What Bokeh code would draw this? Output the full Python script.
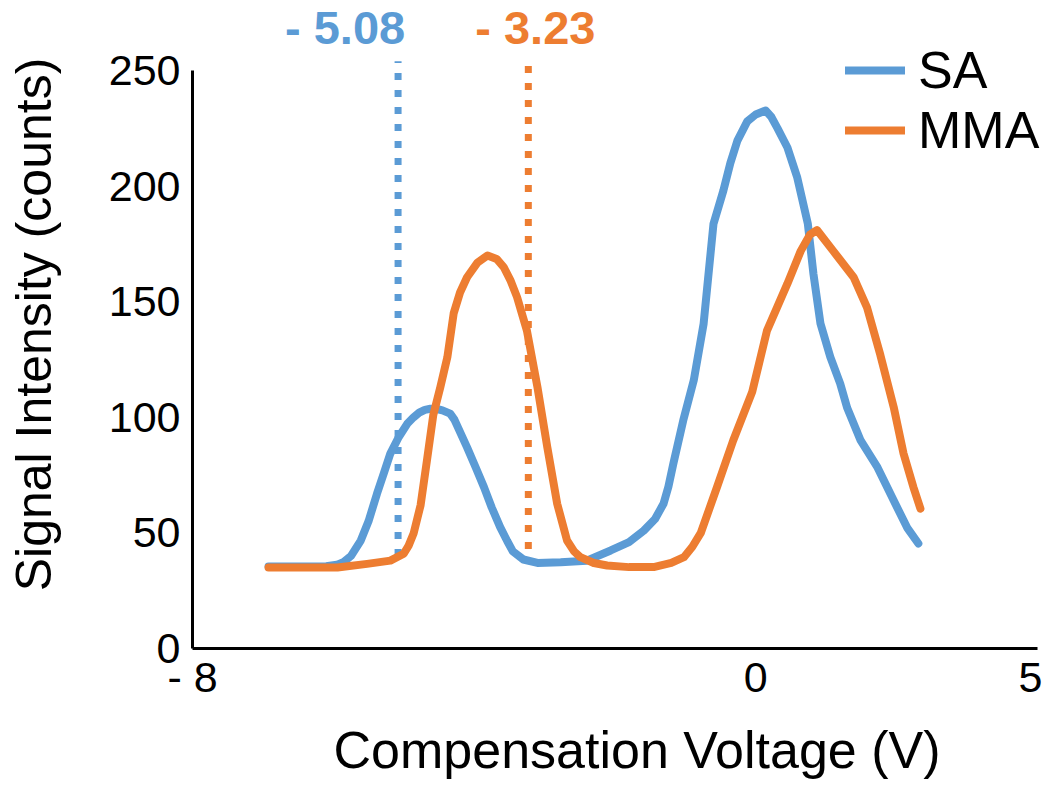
from bokeh.plotting import figure
from bokeh.models import Legend, LegendItem, Label, FixedTicker, Range1d, Title
from bokeh.embed import file_html
from bokeh.resources import INLINE

# ---- data ----
sa_cv = [-6.92, -6.5, -6.1, -5.95, -5.85, -5.75, -5.61, -5.5, -5.38, -5.28, -5.19, -5.07, -4.95,
         -4.86, -4.78, -4.7, -4.62, -4.53, -4.45, -4.34, -4.28, -4.22, -4.10, -3.98, -3.86,
         -3.75, -3.63, -3.53, -3.45, -3.3, -3.1, -2.77, -2.4, -2.06, -1.8, -1.59, -1.43,
         -1.31, -1.24, -1.17, -1.03, -0.88, -0.74, -0.6, -0.46, -0.36, -0.26, -0.12, 0.0,
         0.14, 0.22, 0.31, 0.45, 0.59, 0.74, 0.82, 0.92, 1.06, 1.2, 1.3, 1.49, 1.73, 1.96,
         2.15, 2.31]
sa_int = [35.5, 35.5, 35.6, 36.2, 37.5, 40, 46.7, 55, 66.9, 76, 84.3, 91.5, 97.2,
          100, 102, 103.2, 103.7, 103.6, 103, 101.6, 99, 95, 87, 78.5, 69.8,
          61, 52.5, 46.5, 42, 38.5, 37, 37.3, 38, 42.4, 46, 51, 56,
          62.6, 70, 80, 98.6, 116, 140.5, 183.7, 198, 210, 219.7, 228, 231,
          232.7, 230, 225, 216.7, 203.7, 183.8, 162, 140.5, 126, 114.6, 104, 90, 78.3, 64,
          52.3, 45.4]

mma_cv = [-6.92, -6.3, -5.94, -5.52, -5.19, -5.0, -4.93, -4.86, -4.76, -4.67, -4.58, -4.48,
          -4.38, -4.29, -4.2, -4.1, -3.95, -3.81, -3.68, -3.58, -3.48, -3.39, -3.25, -3.1,
          -2.96, -2.82, -2.68, -2.58, -2.49, -2.3, -2.11, -1.8, -1.45, -1.2, -1.02, -0.9,
          -0.78, -0.55, -0.32, -0.05, 0.16, 0.45, 0.64, 0.77, 0.87, 1.1, 1.39, 1.58, 1.77,
          1.96, 2.1, 2.24, 2.34]
mma_int = [35, 35, 35, 36.6, 38, 41, 44.5, 49.7, 62, 81.3, 101, 113,
           126, 145, 154, 160.6, 167, 170, 168.5, 165, 159, 152, 137.5, 113,
           87, 62.6, 46.7, 42, 39.5, 37, 35.9, 35.2, 35.2, 37, 39.5, 44,
           50, 69.8, 90, 111, 137.5, 157.8, 172, 179, 181, 172, 160.6, 147.6, 127,
           104.4, 84.3, 69.8, 60.5]

marker_cv = [-5.08, -3.23]
marker_labels = ["- 5.08", "- 3.23"]
marker_bottom = [40, 43]
marker_top = [254, 254]
marker_label_y = 262

x_ticks = [-8, 0, 4]
x_tick_labels = {-8: "- 8", 0: "0", 4: "5"}
y_ticks = [0, 50, 100, 150, 200, 250]
x_title = "Compensation Voltage (V)"
y_title = "Signal Intensity (counts)"

BLUE = "#5B9BD5"
ORANGE = "#ED7D31"
FONT = "Liberation Sans"

p = figure(width=1042, height=795, output_backend="svg", toolbar_location=None,
           x_range=Range1d(-8, 4.045), y_range=Range1d(0, 280.3),
           min_border_left=192, min_border_right=2, min_border_top=0, min_border_bottom=147)

p.grid.visible = False
p.outline_line_color = None
p.background_fill_color = "white"

# axes
for ax in (p.xaxis[0], p.yaxis[0]):
    ax.axis_line_color = "black"
    ax.axis_line_width = 3
    ax.major_tick_in = 0
    ax.major_tick_out = 0
    ax.minor_tick_in = 0
    ax.minor_tick_out = 0
    ax.major_label_text_font = FONT
    ax.major_label_text_font_size = "43px"
    ax.major_label_text_color = "black"
    ax.axis_label_text_font = FONT
    ax.axis_label_text_font_style = "normal"
    ax.axis_label_text_color = "black"

p.xaxis.ticker = FixedTicker(ticks=x_ticks)
p.xaxis.major_label_overrides = x_tick_labels
p.xaxis.bounds = (-8, 4)
p.xaxis.major_label_standoff = 4

p.add_layout(Title(text=x_title, align="left", offset=141, text_font=FONT,
                   text_font_size="52px", text_font_style="normal", text_color="black",
                   standoff=30), "below")

p.yaxis.ticker = FixedTicker(ticks=y_ticks)
p.yaxis.bounds = (0, 250)
p.yaxis.axis_label = y_title
p.yaxis.axis_label_text_font_size = "50px"
p.yaxis.major_label_standoff = 12
p.yaxis.axis_label_standoff = 44

# marker lines
p.segment(x0=marker_cv, x1=marker_cv, y0=marker_bottom, y1=marker_top,
          line_color=[BLUE, ORANGE], line_width=7, line_dash="7 10")

# curves
r_sa = p.line(sa_cv, sa_int, line_color=BLUE, line_width=8, line_join="round", line_cap="round")
r_mma = p.line(mma_cv, mma_int, line_color=ORANGE, line_width=8, line_join="round", line_cap="round")

# marker labels
for cv, txt, col, dx in zip(marker_cv, marker_labels, [BLUE, ORANGE], [-53, 7]):
    p.add_layout(Label(x=cv, y=marker_label_y, x_offset=dx, y_offset=15, text=txt,
                       text_color=col, text_font=FONT, text_font_size="47px",
                       text_font_style="bold", text_align="center",
                       text_baseline="alphabetic"))

legend = Legend(items=[LegendItem(label="SA", renderers=[r_sa]),
                       LegendItem(label="MMA", renderers=[r_mma])],
                location=(653, 488))
legend.border_line_color = None
legend.background_fill_alpha = 0
legend.label_text_font = FONT
legend.label_text_font_size = "52px"
legend.label_text_color = "black"
legend.glyph_width = 60
legend.glyph_height = 50
legend.label_height = 50
legend.spacing = -2
legend.padding = 0
legend.margin = 0
legend.label_standoff = 13
p.add_layout(legend)

open("out.html", "w").write(file_html(p, INLINE))
